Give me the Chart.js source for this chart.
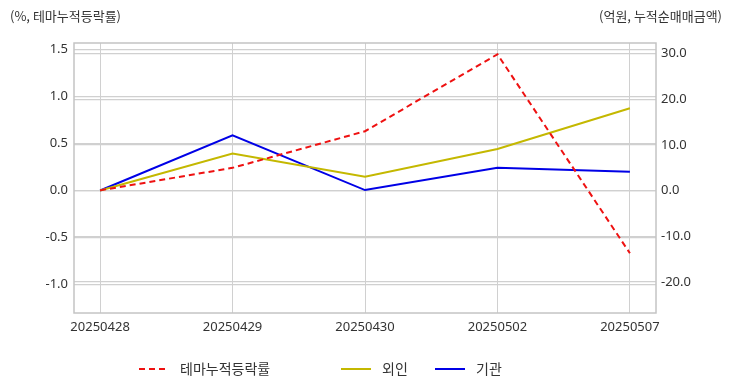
<!DOCTYPE html>
<html>
<head>
<meta charset="utf-8">
<script src="https://cdn.jsdelivr.net/npm/chart.js@4.4.1/dist/chart.umd.min.js"></script>
<style>
  html, body { margin: 0; padding: 0; background: #fff; }
  canvas { display: block; }
</style>
</head>
<body>
<canvas id="chart" width="732" height="392"></canvas>
<script>
/* ── Data ── */
const dates      = ['20250428', '20250429', '20250430', '20250502', '20250507'];
const themeRate  = [0.00, 0.24, 0.63, 1.45, -0.67];   // %, 테마누적등락률 (left)
const foreignNet = [0.0, 8.1, 3.0, 9.1, 18.0];         // 억원, 외인 (right)
const instNet    = [0.0, 12.1, 0.1, 5.0, 4.1];         // 억원, 기관 (right)
const leftTicks  = [-1.0, -0.5, 0.0, 0.5, 1.0, 1.5];
const rightTicks = [-20, -10, 0, 10, 20, 30];
const seriesNames = ['테마누적등락률', '외인', '기관'];
const leftTitle  = '(%, 테마누적등락률)';
const rightTitle = '(억원, 누적순매매금액)';

/* ── Style ── */
const COL = {
  red:    '#ee1111',
  yellow: '#c4b800',
  blue:   '#0000e6',
  grid:   '#d0d0d0',
  frame:  '#c4c4c4',
  text:   '#333333',
};
const NUM_FONT = "'Noto Sans', 'Open Sans', sans-serif";
const KR_FONT  = "'Noto Sans CJK KR', 'Noto Sans', sans-serif";

const toXY = arr => arr.map((v, i) => ({ x: i, y: v }));

/* frame, axis titles and custom legend */
const decorations = {
  id: 'decorations',
  beforeDatasetsDraw(chart) {
    const { ctx, chartArea: a } = chart;
    ctx.save();
    ctx.strokeStyle = COL.frame;
    ctx.lineWidth = 1.5;
    ctx.strokeRect(a.left, a.top, a.right - a.left, a.bottom - a.top);
    ctx.restore();
  },
  afterDraw(chart) {
    const { ctx } = chart;
    ctx.save();
    ctx.fillStyle = COL.text;
    ctx.textBaseline = 'middle';
    ctx.font = `13px ${KR_FONT}`;
    ctx.textAlign = 'left';
    ctx.fillText(leftTitle, 10, 16);
    ctx.textAlign = 'right';
    ctx.fillText(rightTitle, 722, 16);

    // legend
    const items = [
      { x: 139, color: COL.red,    dash: [6, 4] },
      { x: 341, color: COL.yellow, dash: [] },
      { x: 435, color: COL.blue,   dash: [] },
    ];
    const ly = 369;
    ctx.font = `14px ${KR_FONT}`;
    ctx.textAlign = 'left';
    items.forEach((it, i) => {
      ctx.beginPath();
      ctx.setLineDash(it.dash);
      ctx.strokeStyle = it.color;
      ctx.lineWidth = 2;
      ctx.moveTo(it.x, ly);
      ctx.lineTo(it.x + 30, ly);
      ctx.stroke();
      ctx.setLineDash([]);
      ctx.fillText(seriesNames[i], it.x + 41, ly);
    });
    ctx.restore();
  },
};

new Chart(document.getElementById('chart').getContext('2d'), {
  type: 'line',
  data: {
    datasets: [
      {
        label: seriesNames[0],
        data: toXY(themeRate),
        yAxisID: 'y',
        borderColor: COL.red,
        borderDash: [6, 4],
        borderWidth: 2,
        pointRadius: 0,
        tension: 0,
      },
      {
        label: seriesNames[1],
        data: toXY(foreignNet),
        yAxisID: 'y1',
        borderColor: COL.yellow,
        borderWidth: 2,
        pointRadius: 0,
        tension: 0,
      },
      {
        label: seriesNames[2],
        data: toXY(instNet),
        yAxisID: 'y1',
        borderColor: COL.blue,
        borderWidth: 2,
        pointRadius: 0,
        tension: 0,
      },
    ],
  },
  options: {
    responsive: false,
    animation: false,
    layout: { padding: { top: 43, left: 0, right: 0, bottom: 0 } },
    plugins: {
      legend: { display: false },
      tooltip: { enabled: false },
    },
    scales: {
      x: {
        type: 'linear',
        min: -0.197,
        max: 4.197,
        afterBuildTicks: s => { s.ticks = dates.map((_, i) => ({ value: i })); },
        afterFit: s => { s.height = 79; },
        ticks: {
          color: COL.text,
          font: { family: NUM_FONT, size: 13 },
          padding: 6,
          maxRotation: 0,
          autoSkip: false,
          callback: v => dates[v] ?? '',
        },
        grid: { color: COL.grid, lineWidth: 1, drawTicks: false, tickLength: 0 },
        border: { display: false },
      },
      y: {
        position: 'left',
        min: -1.3065,
        max: 1.570,
        afterBuildTicks: s => { s.ticks = leftTicks.map(v => ({ value: v })); },
        afterFit: s => { s.width = 74; },
        ticks: {
          color: COL.text,
          font: { family: NUM_FONT, size: 13 },
          padding: 6,
          callback: v => Number(v).toFixed(1),
        },
        grid: { color: COL.grid, lineWidth: 1.2, drawTicks: false, tickLength: 0 },
        border: { display: false },
      },
      y1: {
        position: 'right',
        min: -26.8,
        max: 32.28,
        afterBuildTicks: s => { s.ticks = rightTicks.map(v => ({ value: v })); },
        afterFit: s => { s.width = 76; },
        ticks: {
          color: COL.text,
          font: { family: NUM_FONT, size: 13 },
          padding: 5,
          callback: v => Number(v).toFixed(1),
        },
        grid: { color: COL.grid, lineWidth: 1.2, drawTicks: false, tickLength: 0 },
        border: { display: false },
      },
    },
  },
  plugins: [decorations],
});
</script>
</body>
</html>
